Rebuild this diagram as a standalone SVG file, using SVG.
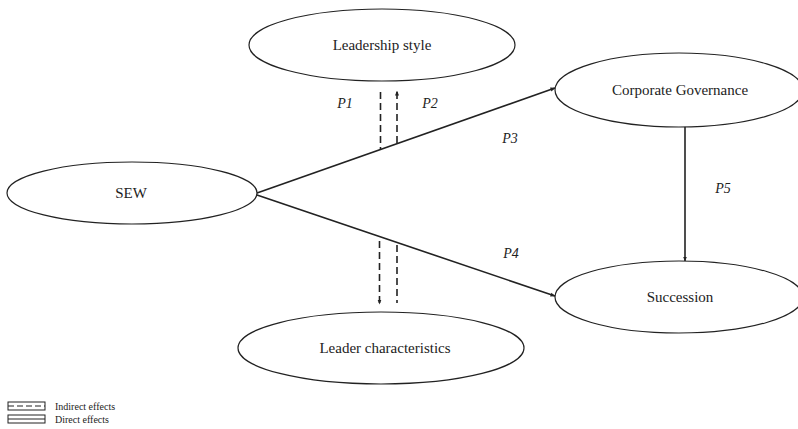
<svg xmlns="http://www.w3.org/2000/svg" width="798" height="429" viewBox="0 0 798 429">
<defs>
<style>
.node ellipse{fill:#fff;stroke:#222;stroke-width:1.2}
.lbl{font-family:"Liberation Serif","Times New Roman",serif;font-size:15px;fill:#222;text-anchor:middle}
.p{font-family:"Liberation Serif","Times New Roman",serif;font-size:14px;font-style:italic;fill:#222;text-anchor:middle}
.solid{stroke:#222;stroke-width:1.6;fill:none}
.dash{stroke:#222;stroke-width:1.6;fill:none;stroke-dasharray:7 4}
.leg{font-family:"Liberation Serif","Times New Roman",serif;font-size:10px;fill:#222}
</style>
<marker id="ah" viewBox="0 0 10 10" refX="9" refY="5" markerWidth="5" markerHeight="5" orient="auto" markerUnits="userSpaceOnUse">
<path d="M0,1 L10,5 L0,9 z" fill="#222"/>
</marker>
</defs>
<rect width="798" height="429" fill="#fff"/>
<g id="connectors">
<line class="solid" x1="257" y1="193" x2="555" y2="88" marker-end="url(#ah)"/>
<line class="solid" x1="257" y1="195" x2="555" y2="296" marker-end="url(#ah)"/>
<line class="solid" x1="685" y1="126" x2="685" y2="261" marker-end="url(#ah)"/>
<line class="dash" x1="380.5" y1="92" x2="380.5" y2="149"/>
<line class="dash" x1="397" y1="143" x2="397" y2="91" marker-end="url(#ah)"/>
<line class="dash" x1="379.5" y1="241" x2="379.5" y2="304" marker-end="url(#ah)"/>
<line class="dash" x1="397" y1="245" x2="397" y2="303"/>
</g>
<g id="leadership-style" class="node"><ellipse cx="382" cy="45" rx="133" ry="36"/><text class="lbl" x="382" y="50">Leadership style</text></g>
<g id="sew" class="node"><ellipse cx="132" cy="193" rx="125" ry="31"/><text class="lbl" x="131" y="198">SEW</text></g>
<g id="corporate-governance" class="node"><ellipse cx="679" cy="90" rx="124" ry="37"/><text class="lbl" x="680" y="95">Corporate Governance</text></g>
<g id="succession" class="node"><ellipse cx="679" cy="297" rx="124" ry="36"/><text class="lbl" x="680" y="302">Succession</text></g>
<g id="leader-characteristics" class="node"><ellipse cx="381" cy="348" rx="143" ry="36"/><text class="lbl" x="385" y="353">Leader characteristics</text></g>
<g id="labels">
<text class="p" x="345" y="108">P1</text>
<text class="p" x="430" y="108">P2</text>
<text class="p" x="510" y="143">P3</text>
<text class="p" x="511" y="258">P4</text>
<text class="p" x="723" y="193">P5</text>
</g>
<g id="legend">
<rect x="8" y="402" width="37" height="8" fill="none" stroke="#222" stroke-width="1"/>
<line x1="8" y1="406" x2="45" y2="406" stroke="#222" stroke-width="1.2" stroke-dasharray="6 3"/>
<rect x="8" y="415" width="37" height="8" fill="none" stroke="#222" stroke-width="1"/>
<line x1="8" y1="419" x2="45" y2="419" stroke="#222" stroke-width="1.2"/>
<text class="leg" x="55" y="410">Indirect effects</text>
<text class="leg" x="55" y="423">Direct effects</text>
</g>
</svg>
